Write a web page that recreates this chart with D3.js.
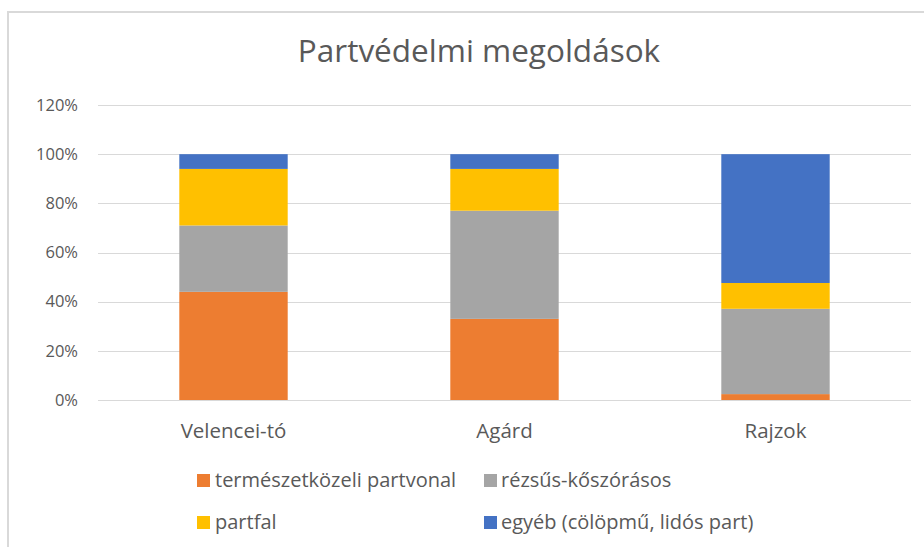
<!DOCTYPE html>
<head>
    <meta charset="utf-8">
    <style>
      body {
          margin: 0;
          background: #fff;
          font-family: 'Open Sans', 'Liberation Sans', sans-serif;
      }
      .grid line {
        stroke: #d9d9d9;
        stroke-width: 1px;
      }
      .lbl {
        fill: #595959;
      }
  </style>
</head>
<body>
<svg id="chart" width="924" height="547"></svg>
<script src="https://cdn.jsdelivr.net/npm/d3@7"></script>
<script>
  // chart data
  var places = ["Velencei-tó", "Agárd", "Rajzok"];
  var seriesNames = ["természetközeli partvonal", "rézsűs-kőszórásos", "partfal", "egyéb (cölöpmű, lidós part)"];
  var seriesColors = ["#ED7D31", "#A5A5A5", "#FFC000", "#4472C4"];
  var termeszetes = [44, 33, 2.4];
  var rezsus = [27, 44, 34.7];
  var partfal = [23, 17, 10.5];
  var egyeb = [6, 6, 52.4];
  var yTicks = [0, 20, 40, 60, 80, 100, 120];

  var svg = d3.select("svg#chart");

  // frame
  svg.append("path")
    .attr("d", "M8 547 V12 H924")
    .attr("fill", "none")
    .attr("stroke", "#d9d9d9")
    .attr("stroke-width", 2);

  svg.append("text")
    .attr("class", "lbl")
    .attr("x", 479)
    .attr("y", 62)
    .attr("text-anchor", "middle")
    .style("font-size", "31.5px")
    .text("Partvédelmi megoldások");

  var x = d3.scaleBand()
      .domain(places)
      .range([98, 911])
      .paddingInner(0.6)
      .paddingOuter(0.3);

  var y = d3.scaleLinear()
      .domain([0, 120])
      .range([400, 105]);

  // gridlines
  svg.append("g")
    .attr("class", "grid")
    .selectAll("line")
    .data(yTicks)
    .join("line")
      .attr("x1", 98)
      .attr("x2", 911)
      .attr("y1", function(d) { return Math.round(y(d)) + 0.5; })
      .attr("y2", function(d) { return Math.round(y(d)) + 0.5; });

  // y labels
  svg.append("g")
    .selectAll("text")
    .data(yTicks)
    .join("text")
      .attr("class", "lbl")
      .attr("x", 78)
      .attr("y", function(d) { return y(d); })
      .attr("dy", "0.35em")
      .attr("text-anchor", "end")
      .style("font-size", "16.5px")
      .text(function(d) { return d + "%"; });

  var rows = places.map(function(p, i) {
    return { place: p, s0: termeszetes[i], s1: rezsus[i], s2: partfal[i], s3: egyeb[i] };
  });
  var stack = d3.stack().keys(["s0", "s1", "s2", "s3"]);
  var layers = stack(rows);

  svg.append("g")
    .selectAll("g")
    .data(layers)
    .join("g")
      .attr("fill", function(d, i) { return seriesColors[i]; })
    .selectAll("rect")
    .data(function(d) { return d; })
    .join("rect")
      .attr("x", function(d) { return x(d.data.place); })
      .attr("width", x.bandwidth())
      .attr("y", function(d) { return y(d[1]); })
      .attr("height", function(d) { return y(d[0]) - y(d[1]); });

  // x labels
  svg.append("g")
    .selectAll("text")
    .data(places)
    .join("text")
      .attr("class", "lbl")
      .attr("x", function(d) { return x(d) + x.bandwidth() / 2; })
      .attr("y", 438)
      .attr("text-anchor", "middle")
      .style("font-size", "20.5px")
      .text(function(d) { return d; });

  // legend
  var legX = [197, 484];
  var legY = [480, 522];
  var leg = svg.append("g")
    .selectAll("g")
    .data(seriesNames)
    .join("g")
      .attr("transform", function(d, i) { return "translate(" + legX[i % 2] + "," + legY[Math.floor(i / 2)] + ")"; });
  leg.append("rect")
    .attr("x", 0)
    .attr("y", -6)
    .attr("width", 13)
    .attr("height", 13)
    .attr("fill", function(d, i) { return seriesColors[i]; });
  leg.append("text")
    .attr("class", "lbl")
    .attr("x", function(d, i) { return i % 2 ? 17 : 18; })
    .attr("dy", "0.35em")
    .style("font-size", "20px")
    .text(function(d) { return d; });
</script>
</body>
